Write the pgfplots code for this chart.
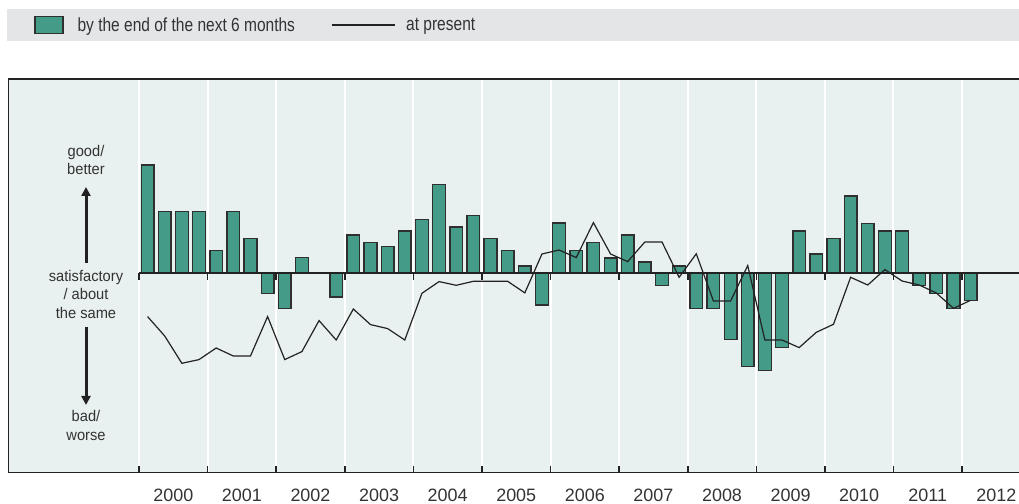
\documentclass[border=0pt]{standalone}
\usepackage{pgfplots}
\pgfplotsset{compat=1.18}
\usepackage{pgfplotstable}
\usepackage{fontspec}
\setmainfont{Liberation Sans}
\newfontfamily\condfont[FakeStretch=0.82]{Liberation Sans}
\newfontfamily\midfont[FakeStretch=0.95]{Liberation Sans}
\usetikzlibrary{arrows.meta}
\definecolor{barfill}{RGB}{68,155,136}
\definecolor{baredge}{RGB}{47,47,47}
\definecolor{plotbg}{RGB}{232,241,239}
\definecolor{legbg}{RGB}{228,229,231}
\definecolor{txt}{RGB}{51,51,51}
\definecolor{darkline}{RGB}{34,34,34}

\pgfplotstableread{
x y
2000.125 108.3
2000.375 61.7
2000.625 61.7
2000.875 61.7
2001.125 23
2001.375 61.7
2001.625 34.7
2001.875 -20
2002.125 -35.3
2002.375 15.7
2002.625 0
2002.875 -23.7
2003.125 38.3
2003.375 30.7
2003.625 26.7
2003.875 42.3
2004.125 54
2004.375 89
2004.625 46.3
2004.875 58
2005.125 34.7
2005.375 23
2005.625 7.3
2005.875 -31.7
2006.125 50.3
2006.375 23
2006.625 31
2006.875 15.3
2007.125 38.3
2007.375 11.3
2007.625 -12
2007.875 7.3
2008.125 -35
2008.375 -35
2008.625 -66.3
2008.875 -93.3
2009.125 -97.3
2009.375 -74
2009.625 42.3
2009.875 19.3
2010.125 34.7
2010.375 77.3
2010.625 50
2010.875 42.3
2011.125 42.3
2011.375 -12
2011.625 -20
2011.875 -35
2012.125 -27.3
}\nextsix

\pgfplotstableread{
x y
2000.125 -43.3
2000.375 -62.7
2000.625 -90
2000.875 -86.3
2001.125 -74.7
2001.375 -82.7
2001.625 -82.7
2001.875 -43.3
2002.125 -86.3
2002.375 -78.3
2002.625 -47.3
2002.875 -66.7
2003.125 -35.7
2003.375 -51.3
2003.625 -55.3
2003.875 -66.7
2004.125 -20
2004.375 -8.3
2004.625 -12
2004.875 -8
2005.125 -8
2005.375 -8
2005.625 -19.6
2005.875 19.3
2006.125 23.3
2006.375 15.7
2006.625 50.7
2006.875 19.3
2007.125 11.7
2007.375 31.3
2007.625 31.3
2007.875 -4
2008.125 19.5
2008.375 -27.7
2008.625 -27.7
2008.875 7.7
2009.125 -66.7
2009.375 -66.7
2009.625 -74.3
2009.875 -59
2010.125 -51
2010.375 -4
2010.625 -11.7
2010.875 3.7
2011.125 -7.7
2011.375 -11.7
2011.625 -19.7
2011.875 -35
2012.125 -27
}\present

\begin{document}
\begin{tikzpicture}
\fill[legbg] (7bp,463bp) rectangle (1019bp,495bp);
\begin{axis}[
  at={(8bp,31bp)}, anchor=south west,
  scale only axis, width=1011bp, height=394bp,
  xmin=1998.09, xmax=2012.83, ymin=-199.7, ymax=194.3,
  axis line style={draw=none},
  axis background/.style={fill=plotbg},
  ytick=\empty,
  xtick={2000.5,2001.5,2002.5,2003.5,2004.5,2005.5,2006.5,2007.5,2008.5,2009.5,2010.5,2011.5,2012.5},
  xticklabels={2000,2001,2002,2003,2004,2005,2006,2007,2008,2009,2010,2011,2012},
  major tick length=0pt,
  minor xtick={2000,2001,...,2012},
  minor tick length=7bp,
  xminorgrids=true,
  minor grid style={white, line width=2bp},
  tick align=inside,
  tick pos=left,
  minor tick style={draw=darkline, line width=1.6bp},
  xticklabel style={font=\fontsize{18}{20}\selectfont, text=txt, anchor=base, yshift=-28.5bp, inner sep=0pt},
  legend style={draw=none, fill=none, inner sep=0pt, at={(rel axis cs:0.0257,1.137)}, anchor=west,
    font=\condfont\fontsize{19}{22}\selectfont, text=txt,
    /tikz/every even column/.append style={column sep=34bp}},
  legend columns=2,
  legend cell align=left,
]
\addplot[ybar, bar width=12.7bp, fill=barfill, draw=baredge, line width=1.4bp,
  legend image code/.code={\draw[fill=barfill, draw=baredge, line width=1.4bp] (0bp,-8.5bp) rectangle (28bp,8.5bp); \path (40bp,0bp);}]
  table[x=x, y=y] {\nextsix};
\addlegendentry{by the end of the next 6 months}
\addplot[darkline, line width=1.6bp, forget plot] coordinates {(2000,0) (2012.83,0)};
\addplot[ycomb, darkline, line width=1.6bp, forget plot, no marks] coordinates {
(2000,-7) (2001,-7) (2002,-7) (2003,-7) (2004,-7) (2005,-7) (2006,-7) (2007,-7) (2008,-7) (2009,-7) (2010,-7) (2011,-7) (2012,-7)};
\addplot[darkline, line width=1.2bp, no marks, sharp plot,
  legend image code/.code={\draw[darkline, line width=1.2bp] (0bp,0bp) -- (63bp,0bp); \path (72bp,0bp);}]
  table[x=x, y=y] {\present};
\addlegendentry{at present}
\draw[darkline, line width=2.2bp] (rel axis cs:1,1) -- (rel axis cs:0,1) -- (rel axis cs:0,0) -- (rel axis cs:1,0);
\end{axis}
\begin{scope}[every node/.style={font=\midfont\fontsize{15.5}{18.5}\selectfont, text=txt, align=center}]
\node at (86bp,344bp) {good/\\better};
\node at (86bp,209.7bp) {satisfactory\\/ about\\the same};
\node at (86bp,78.5bp) {bad/\\worse};
\end{scope}
\draw[darkline, line width=3bp, -{Triangle[width=9bp,length=9bp]}] (86bp,241bp) -- (86bp,317bp);
\draw[darkline, line width=3bp, -{Triangle[width=9bp,length=9bp]}] (86bp,177bp) -- (86bp,99bp);
\pgfresetboundingbox
\path (0,0) rectangle (1019bp,504bp);
\end{tikzpicture}
\end{document}
